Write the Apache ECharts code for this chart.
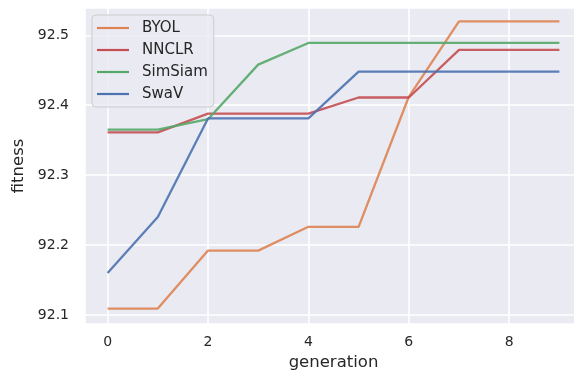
<!DOCTYPE html>
<html>
<head>
<meta charset="utf-8">
<script src="https://cdn.jsdelivr.net/npm/echarts@6/dist/echarts.min.js"></script>
<style>
  html, body { margin: 0; padding: 0; background: #ffffff; overflow: hidden; }
  #chart { width: 574px; height: 375px; }
</style>
</head>
<body>
<div id="chart"></div>
<script>
// Fitness per generation for each self-supervised method
const generations = [0, 1, 2, 3, 4, 5, 6, 7, 8, 9];
const seriesNames = ['BYOL', 'NNCLR', 'SimSiam', 'SwaV'];
const byol    = [92.109, 92.109, 92.192, 92.192, 92.226, 92.226, 92.412, 92.520, 92.520, 92.520];
const nnclr   = [92.361, 92.361, 92.388, 92.388, 92.388, 92.411, 92.411, 92.479, 92.479, 92.479];
const simsiam = [92.365, 92.365, 92.380, 92.458, 92.489, 92.489, 92.489, 92.489, 92.489, 92.489];
const swav    = [92.160, 92.240, 92.381, 92.381, 92.381, 92.448, 92.448, 92.448, 92.448, 92.448];
const seriesValues = [byol, nnclr, simsiam, swav];
const colors = ['#dd8452', '#c44e52', '#55a868', '#4c72b0'];

const textColor = '#262626';
const font = 'DejaVu Sans';

const chart = echarts.init(document.getElementById('chart'), null, { renderer: 'canvas' });

chart.setOption({
  animation: false,
  backgroundColor: '#ffffff',
  color: colors,
  grid: {
    // the axes run a little past the right edge of the canvas
    left: 85, width: 497, top: 8, bottom: 51,
    outerBoundsMode: 'none',
    containLabel: false,
    show: true, backgroundColor: '#eaeaf2', borderWidth: 0
  },
  legend: {
    orient: 'vertical',
    left: 92, top: 15,
    data: seriesNames,
    icon: 'path://M0,0 L32,0 L32,2.2 L0,2.2 Z',
    itemWidth: 32, itemHeight: 3,
    itemGap: 6,
    padding: [5, 6, 5, 5],
    backgroundColor: 'rgba(234,234,242,0.8)',
    borderColor: '#cccccc', borderWidth: 1, borderRadius: 4,
    textStyle: { color: textColor, fontFamily: font, fontSize: 15, lineHeight: 16, padding: [0, 0, 0, 8] }
  },
  xAxis: {
    type: 'value',
    min: -0.45, max: 9.45,
    name: 'generation',
    nameLocation: 'middle',
    nameGap: 30,
    nameTextStyle: { color: textColor, fontFamily: font, fontSize: 16.5 },
    axisLine: { show: false },
    axisTick: { show: false },
    axisLabel: { color: textColor, fontFamily: font, fontSize: 14, margin: 11, showMinLabel: false, showMaxLabel: false },
    splitLine: { show: true, lineStyle: { color: '#ffffff', width: 1.6 } }
  },
  yAxis: {
    type: 'value',
    min: 92.087, max: 92.539,
    name: 'fitness',
    nameLocation: 'middle',
    nameGap: 58,
    nameTextStyle: { color: textColor, fontFamily: font, fontSize: 16.5 },
    axisLine: { show: false },
    axisTick: { show: false },
    axisLabel: {
      color: textColor, fontFamily: font, fontSize: 14, margin: 16,
      showMinLabel: false, showMaxLabel: false,
      formatter: v => v.toFixed(1)
    },
    splitLine: { show: true, lineStyle: { color: '#ffffff', width: 1.6 } }
  },
  series: seriesNames.map((name, i) => ({
    name: name,
    type: 'line',
    symbol: 'none',
    data: generations.map((g, j) => [g, seriesValues[i][j]]),
    lineStyle: { width: 2.3, color: colors[i], opacity: 0.9 },
    itemStyle: { color: colors[i] }
  }))
});
</script>
</body>
</html>
